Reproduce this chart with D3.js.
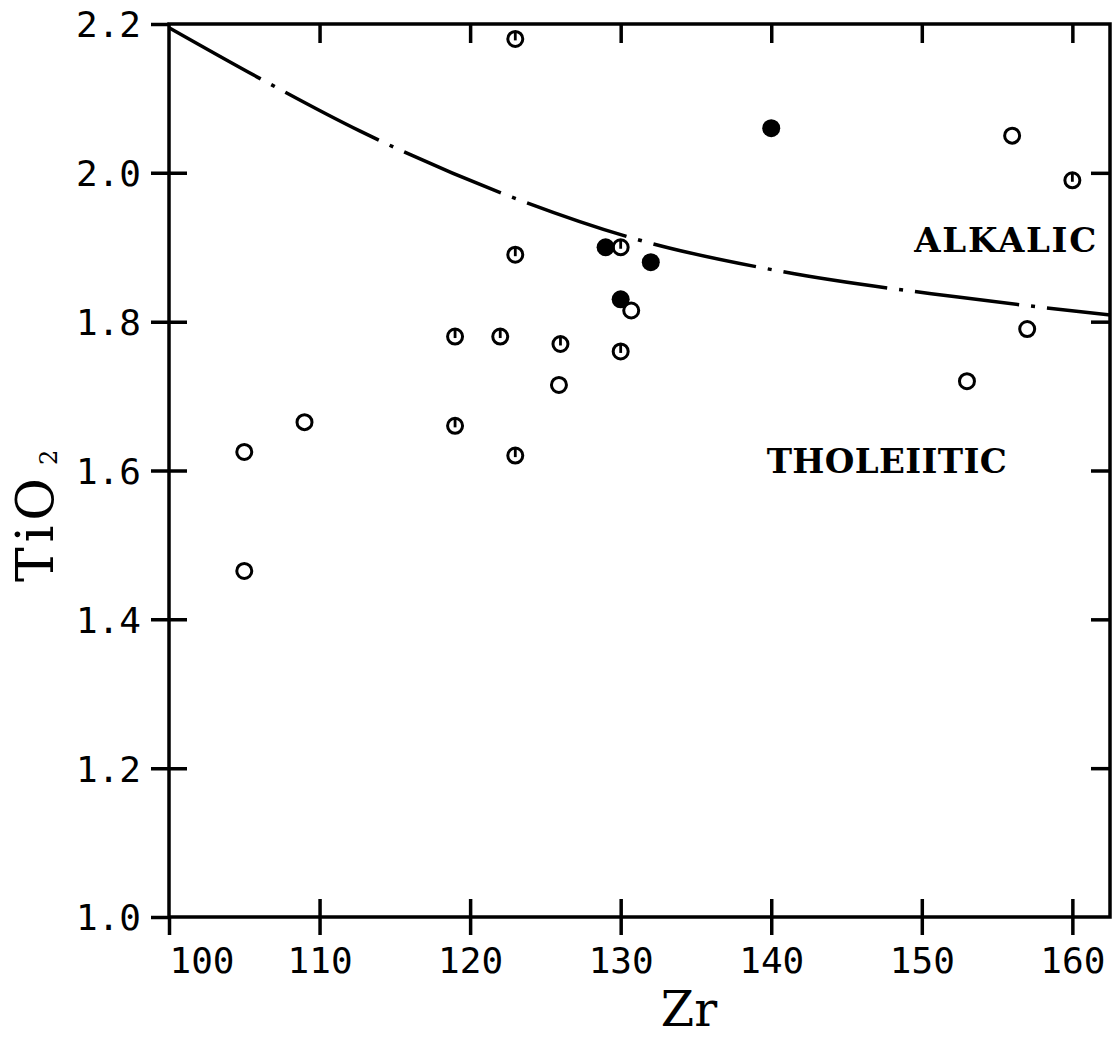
<!DOCTYPE html>
<html>
<head>
<meta charset="utf-8">
<script src="https://cdn.jsdelivr.net/npm/d3@7"></script>
<style>
  body { margin: 0; background: #fff; }
</style>
</head>
<body>
<div id="chart"></div>
<script>
// Zr vs TiO2 plot, samples split by symbol type

// filled circles
var filledZr = [129, 130, 132, 140];
var filledTi = [1.90, 1.83, 1.88, 2.06];

// plain open circles
var openZr = [105, 105, 109, 125.9, 130.7, 153, 156, 157];
var openTi = [1.625, 1.465, 1.665, 1.715, 1.815, 1.72, 2.05, 1.79];

// open circles with the little inner tick
var tickedZr = [119, 119, 122, 123, 123, 123, 126, 130, 130, 160];
var tickedTi = [1.78, 1.66, 1.78, 2.18, 1.89, 1.62, 1.77, 1.90, 1.76, 1.99];

// alkalic / tholeiitic dividing line
var lineZr = [100, 106.2, 112.7, 122.7, 131.0, 140.8, 152.4, 162.5];
var lineTi = [2.195, 2.125, 2.056, 1.968, 1.911, 1.867, 1.833, 1.809];

// ticks
var xTicks = [100, 110, 120, 130, 140, 150, 160];
var xLabels = ["100", "110", "120", "130", "140", "150", "160"];
var yTicks = [1.0, 1.2, 1.4, 1.6, 1.8, 2.0, 2.2];
var yLabels = ["1.0", "1.2", "1.4", "1.6", "1.8", "2.0", "2.2"];

var width = 1112;
var height = 1040;
var margin = {"left": 169, "right": 2, "top": 24, "down": 123};
var tick_len = 18;
var stroke_w = 3.5;
var mono = "'DejaVu Sans Mono', monospace";
var serif = "'DejaVu Serif', serif";

var svg = d3.select('#chart').append('svg')
    .attr('width', width)
    .attr('height', height)
    .style('background', '#fff');

var x = d3.scaleLinear().domain([100, 162.5]).range([margin.left, width - margin.right]);
var y = d3.scaleLinear().domain([1.0, 2.2]).range([height - margin.down, margin.top]);

//frame
svg.append('rect')
    .attr('x', x(100))
    .attr('y', y(2.2))
    .attr('width', x(162.5) - x(100))
    .attr('height', y(1.0) - y(2.2))
    .attr('fill', 'none')
    .attr('stroke', 'black')
    .attr('stroke-width', stroke_w);

//bottom axis, ticks cross the line
var xAxis = svg.append('g')
    .attr('transform', 'translate(0,' + y(1.0) + ')')
    .call(d3.axisBottom(x).tickValues(xTicks).tickSize(tick_len).tickSizeOuter(0)
        .tickFormat(function(d, i) { return xLabels[i]; }));
xAxis.select('.domain').remove();
xAxis.selectAll('.tick line')
    .attr('y1', function(d) { return d == 100 ? 0 : -tick_len; })
    .attr('stroke-width', stroke_w);
xAxis.selectAll('.tick text')
    .attr('y', 56)
    .attr('dy', 0)
    .attr('fill', 'black')
    .attr('font-family', mono)
    .attr('font-size', 36)
    .attr('text-anchor', function(d) { return d == 100 ? 'start' : 'middle'; });

//left axis
var yAxis = svg.append('g')
    .attr('transform', 'translate(' + x(100) + ',0)')
    .call(d3.axisLeft(y).tickValues(yTicks).tickSize(tick_len).tickSizeOuter(0)
        .tickFormat(function(d, i) { return yLabels[i]; }));
yAxis.select('.domain').remove();
yAxis.selectAll('.tick line')
    .attr('x1', function(d) { return (d == 2.2 || d == 1.0) ? 0 : tick_len; })
    .attr('stroke-width', stroke_w);
yAxis.selectAll('.tick text')
    .attr('x', -28)
    .attr('dy', '0.36em')
    .attr('fill', 'black')
    .attr('font-family', mono)
    .attr('font-size', 36);

//top and right: inside ticks only
var topAxis = svg.append('g')
    .attr('transform', 'translate(0,' + y(2.2) + ')')
    .call(d3.axisTop(x).tickValues(xTicks.slice(1)).tickSize(-19).tickSizeOuter(0).tickFormat(''));
topAxis.select('.domain').remove();
topAxis.selectAll('.tick line').attr('stroke-width', stroke_w);

var rightAxis = svg.append('g')
    .attr('transform', 'translate(' + x(162.5) + ',0)')
    .call(d3.axisRight(y).tickValues(yTicks.slice(1, 6)).tickSize(-19).tickSizeOuter(0).tickFormat(''));
rightAxis.select('.domain').remove();
rightAxis.selectAll('.tick line').attr('stroke-width', stroke_w);

//dash-dot boundary
var curve_data = lineZr.map(function(d, i) { return {'zr': d, 'ti': lineTi[i]}; });
var line = d3.line()
    .x(function(d) { return x(d.zr); })
    .y(function(d) { return y(d.ti); })
    .curve(d3.curveMonotoneX);

svg.append('path')
    .datum(curve_data)
    .attr('d', line)
    .attr('fill', 'none')
    .attr('stroke', 'black')
    .attr('stroke-width', 3.5)
    .attr('stroke-dasharray', '105,12,4,12');

//points
var open_data = openZr.map(function(d, i) { return {'zr': d, 'ti': openTi[i]}; });
var ticked_data = tickedZr.map(function(d, i) { return {'zr': d, 'ti': tickedTi[i]}; });
var filled_data = filledZr.map(function(d, i) { return {'zr': d, 'ti': filledTi[i]}; });

svg.selectAll('.open_pt')
    .data(open_data.concat(ticked_data))
    .enter()
    .append('circle')
    .attr('cx', function(d) { return x(d.zr); })
    .attr('cy', function(d) { return y(d.ti); })
    .attr('r', 7.5)
    .attr('fill', 'white')
    .attr('stroke', 'black')
    .attr('stroke-width', 3);

svg.selectAll('.tick_mark')
    .data(ticked_data)
    .enter()
    .append('line')
    .attr('x1', function(d) { return x(d.zr); })
    .attr('x2', function(d) { return x(d.zr); })
    .attr('y1', function(d) { return y(d.ti) + 1.5; })
    .attr('y2', function(d) { return y(d.ti) - 7; })
    .attr('stroke', 'black')
    .attr('stroke-width', 2.8);

svg.selectAll('.filled_pt')
    .data(filled_data)
    .enter()
    .append('circle')
    .attr('cx', function(d) { return x(d.zr); })
    .attr('cy', function(d) { return y(d.ti); })
    .attr('r', 9)
    .attr('fill', 'black');

//region labels
svg.append('text')
    .attr('x', x(149.5))
    .attr('y', y(1.894))
    .text('ALKALIC')
    .attr('font-family', serif)
    .attr('font-weight', 'bold')
    .attr('font-size', 34)
    .attr('textLength', 182)
    .attr('lengthAdjust', 'spacing')
    .attr('fill', 'black');

svg.append('text')
    .attr('x', x(139.7))
    .attr('y', y(1.597))
    .text('THOLEIITIC')
    .attr('font-family', serif)
    .attr('font-weight', 'bold')
    .attr('font-size', 34)
    .attr('textLength', 240)
    .attr('lengthAdjust', 'spacing')
    .attr('fill', 'black');

//axis titles
svg.append('text')
    .attr('x', 689)
    .attr('y', 1026)
    .attr('text-anchor', 'middle')
    .text('Zr')
    .attr('font-family', serif)
    .attr('font-size', 48)
    .attr('fill', 'black');

var ytitle = svg.append('text')
    .attr('transform', 'translate(53,582) rotate(-90)')
    .attr('text-anchor', 'start')
    .attr('font-family', serif)
    .attr('font-size', 52)
    .attr('letter-spacing', 5)
    .attr('fill', 'black');
ytitle.append('tspan').text('TiO');
ytitle.append('tspan')
    .attr('dx', 8)
    .attr('dy', 4)
    .attr('font-size', 24)
    .attr('letter-spacing', 0)
    .text('2');
</script>
</body>
</html>
